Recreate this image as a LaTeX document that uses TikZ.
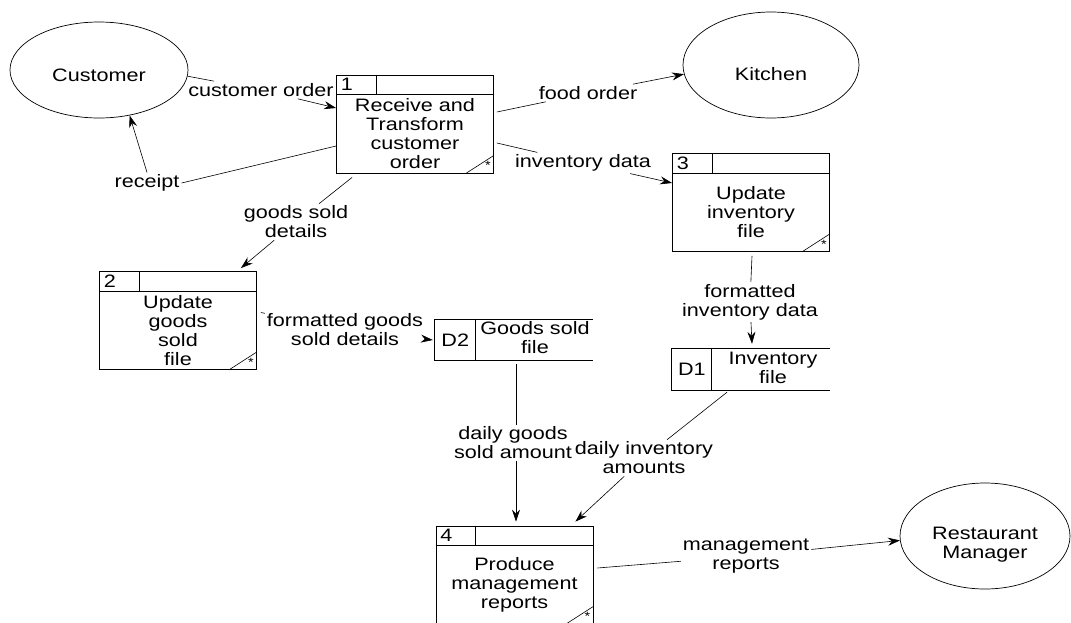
\documentclass[tikz,border=0pt]{standalone}
\usepackage{fontspec}
\setmainfont[FakeStretch=1.2]{Liberation Sans}
\usetikzlibrary{shapes.geometric,calc,arrows.meta}
\begin{document}
\begin{tikzpicture}[x=1pt,y=-1pt,
  txt/.style={font=\fontsize{18}{19}\selectfont, align=center, inner sep=1.5pt},
  entity/.style={draw, ellipse, line width=0.7pt, inner sep=0pt},
  procbox/.style={draw, rectangle, line width=0.8pt, minimum width=157pt, minimum height=98pt, inner sep=0pt},
  store/.style={rectangle, minimum width=158pt, minimum height=40pt, inner sep=0pt},
  numtxt/.style={txt, anchor=west},
  startxt/.style={font=\fontsize{12}{12}\selectfont, inner sep=0pt},
  flow/.style={line width=0.6pt},
  arr/.style={flow, -{Stealth[length=12pt,width=8pt]}},
  lab/.style={txt, inner sep=2pt}
]
\newcommand\dfdproc[5]{%
  \node[procbox] (#1) at (#2,#3) {};
  \draw[line width=0.8pt] ($(#1.north west)+(0,20)$) -- ($(#1.north east)+(0,20)$);
  \draw[line width=0.8pt] ($(#1.north west)+(40,0)$) -- ($(#1.north west)+(40,20)$);
  \draw[line width=0.6pt] ($(#1.south east)+(-28,0)$) -- ($(#1.south east)+(0,-18)$);
  \node[numtxt] (#1n) at ($(#1.north west)+(3,10)$) {#4};
  \node[txt] (#1t) at ($(#1.center)+(0,10)$) {#5};
  \node[startxt] (#1s) at ($(#1.south east)+(-6,-8)$) {*};
}
\clip (0,0) rectangle (1071,622);
\fill[white] (0,0) rectangle (1071,622);

% external entities
\node[entity, minimum width=178pt, minimum height=96pt] (cust) at (99,70) {};
\node[txt] (custt) at ($(cust.center)+(0,5)$) {Customer};
\node[entity, minimum width=176pt, minimum height=106pt] (kit) at (771,65) {};
\node[txt] (kitt) at ($(kit.center)+(0,9)$) {Kitchen};
\node[entity, minimum width=170pt, minimum height=106pt] (mgr) at (985,536) {};
\node[txt] (mgrt) at ($(mgr.center)+(0,9)$) {Restaurant\\Manager};

% processes
\dfdproc{p1}{415}{124}{1}{Receive and\\Transform\\customer\\order}
\dfdproc{p2}{178}{320.5}{2}{Update\\goods\\sold\\file}
\dfdproc{p3}{751}{202.5}{3}{Update\\inventory\\file}
\dfdproc{p4}{514.5}{575}{4}{Produce\\management\\reports}

% data stores
\node[store] (d2) at (514,340) {};
\draw[line width=0.8pt] (d2.north east) -- (d2.north west) -- (d2.south west) -- (d2.south east);
\draw[line width=0.8pt] ($(d2.north west)+(41,0)$) -- ($(d2.south west)+(41,0)$);
\node[txt] (d2id) at ($(d2.west)+(20.5,0)$) {D2};
\node[txt] (d2t) at (535,338) {Goods sold\\file};

\node[store, minimum height=41pt] (d1) at (751,369.5) {};
\draw[line width=0.8pt] (d1.north east) -- (d1.north west) -- (d1.south west) -- (d1.south east);
\draw[line width=0.8pt] ($(d1.north west)+(40,0)$) -- ($(d1.south west)+(40,0)$);
\node[txt] (d1id) at ($(d1.west)+(20,0)$) {D1};
\node[txt] (d1t) at (773,368) {Inventory\\file};

% flow labels
\node[lab] (lco) at (261,90) {customer order};
\node[lab] (lrec) at (147,183) {receipt};
\node[lab] (lfood) at (588,93) {food order};
\node[lab] (linv) at (583,163) {inventory data};
\node[lab] (lgsd) at (296,222) {goods sold\\details};
\node[lab] (lfgsd) at (345,330) {formatted goods\\sold details};
\node[lab] (lfid) at (750,302) {formatted\\inventory data};
\node[lab] (ldgs) at (513,443) {daily goods\\sold amount};
\node[lab] (ldia) at (644,458) {daily inventory\\amounts};
\node[lab] (lmr) at (746,556) {management\\reports};

% flows
\draw[flow] (cust.-4) -- (lco);
\draw[arr] (lco) -- ($(p1.west)+(0,-16)$);

\draw[flow] ($(p1.west)+(0,22)$) -- (lrec.east);
\draw[arr] (lrec.north) -- (cust.-56);

\draw[flow] ($(p1.east)+(3,-12)$) -- (lfood);
\draw[arr] (lfood) -- (kit.186);

\draw[flow] ($(p1.east)+(3,19)$) -- (linv);
\draw[arr] (linv) -- ($(p3.west)+(0,-19.5)$);

\draw[flow] ($(p1.south west)+(16,4)$) -- (lgsd);
\draw[arr] (lgsd) -- ($(p2.north east)+(-16,-3)$);

\draw[flow] ($(p2.east)+(4,-8)$) -- (lfgsd);
\draw[arr] (lfgsd) -- ($(d2.west)+(-2,0)$);

\draw[flow] ($(p3.south)+(1,4)$) -- (lfid);
\draw[arr] (lfid) -- ($(d1.north)+(1,-5)$);

\draw[flow] ($(d2.south)+(2,4)$) -- (ldgs.north -| 516,0);
\draw[arr] (ldgs.south -| 516,0) -- ($(p4.north)+(1.5,-4)$);

\draw[flow] ($(d1.south)+(-24,2)$) -- (ldia);
\draw[arr] (ldia) -- ($(p4.north east)+(-18,-4)$);

\draw[flow] ($(p4.east)+(4,-7)$) -- (lmr);
\draw[arr] (lmr) -- (mgr.183);
\end{tikzpicture}
\end{document}
